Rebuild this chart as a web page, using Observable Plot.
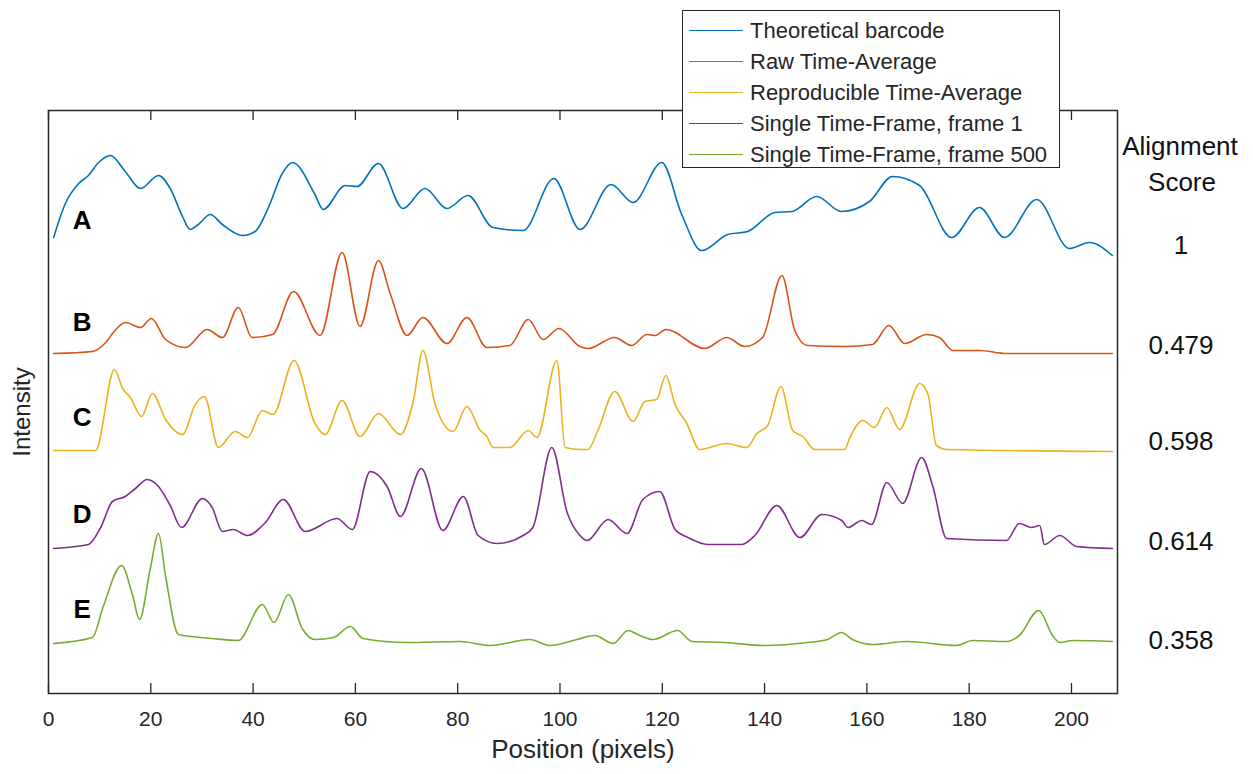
<!DOCTYPE html>
<html><head><meta charset="utf-8">
<script src="https://cdn.jsdelivr.net/npm/d3@7"></script>
<script src="https://cdn.jsdelivr.net/npm/@observablehq/plot@0.6"></script>
<style>
body{margin:0;background:#fff;}
#wrap{position:relative;width:1253px;height:774px;font-family:"Liberation Sans",Arial,sans-serif;color:#000;overflow:hidden;}
#wrap svg{position:absolute;left:0;top:0;}
.legend{position:absolute;left:682px;top:10px;width:378px;height:158px;box-sizing:border-box;border:1.5px solid #262626;background:#fff;padding-top:4px;}
.row{position:relative;height:31px;}
.row .ln{position:absolute;left:6px;top:15px;width:54px;height:0;border-top:1.5px solid;}
.row .tx{position:absolute;left:67px;top:0;line-height:31px;font-size:22px;color:#262626;white-space:nowrap;}
.ann{position:absolute;font-size:26px;transform:translate(-50%,-50%);white-space:nowrap;color:#111;}
</style>
</head><body>
<div id="wrap"></div>
<script>
// ---- data ----
const seriesNames = ["Theoretical barcode","Raw Time-Average","Reproducible Time-Average","Single Time-Frame, frame 1","Single Time-Frame, frame 500"];
const letters = ["A","B","C","D","E"];
const scores = ["1","0.479","0.598","0.614","0.358"];
const xTicks = [0,20,40,60,80,100,120,140,160,180,200];
const colors = ["#0072BD","#D95319","#EDB120","#7E2F8E","#77AC30"];

// Positions (pixels) and offset intensities for each trace
const posA = [1,3.3,5.9,7.8,9.8,12.1,15,18,21.5,23.8,26.2,27.7,29.3,31.6,34,37.9,40.4,43,45.7,47.7,52.1,53.7,58,60.3,64.5,69.3,73.6,77.9,82,86.9,92.8,98.8,103.9,110,114.3,119.9,123.8,127.7,132.8,136.7,142,145.3,150.2,155,160.5,165,170.3,176.6,182,186.9,193.2,199.6,203.5,208];
const valA = [456,490,510,518,531,538,522,505,518,505,477,464,469,479,469,458,462,486,520,531,499,484,508,507,530,485,505,485,498,466,463,515,464,509,491,531,479,443,459,462,481,482,497,482,492,517,508,456,486,456,494,445,451,438];

const posB = [1,8.6,11,13,15,18,20.1,22.9,26.8,31,34,37.1,39.8,43.8,47.9,53.1,57.4,60.9,64.5,66.8,70.1,73.2,77.9,81.8,85.7,90.2,93.8,96.7,99.8,103.9,105.5,110.7,114,117,118.6,120.7,128.3,132.6,136.1,139.6,143.4,145.9,148.4,155.7,161.1,164.3,167.4,171.7,174.2,176.8,182,187.3,208];
const valB = [340,342,350,363,371,366,375,354,346,364,356,386,356,359,402,358,441,367,433,400,358,376,350,376,346,348,374,354,365,347,345,356,348,359,358,364,345,356,347,356,418,363,348,347,349,368,350,359,356,343,343,340,340];

const posC = [1,9.2,12.9,14.5,16,18.2,20.3,22.9,26.2,28.7,30.5,33.2,36.5,38.9,41.8,43.9,48,52.1,54.1,57.4,60.9,64.5,68.8,71.3,73.2,75.6,79.1,81.8,84.4,85.7,86.9,90.2,93.8,95.5,99.4,101,103.9,105.5,107.4,110.7,114.3,116.6,118.9,120.7,122.5,124.8,127.3,132.6,136.5,138.5,140.6,143.2,145.5,147.5,149.8,155.7,156.6,159.2,161.5,163.9,166.4,170.3,171.9,173.6,175.6,208];
const valC = [243,243,324,305,296,277,300,274,259,289,297,246,262,256,283,279,333,270,259,293,257,280,259,292,343,289,262,287,263,257,246,246,263,256,333,246,244,244,263,302,272,292,294,318,289,270,244,250,246,260,268,307,263,257,244,244,255,273,266,286,264,310,300,248,244,242];

const posD = [1,7.8,10.2,12.5,15,17,19.3,21.5,23.8,26,30.1,32,34,36.1,38.9,42.4,45.9,50.2,56.4,59.4,62.9,66.2,68.8,72.9,77.1,81.1,84,87.7,92.8,94.7,98.4,101.4,103.9,105.3,109.4,113.1,116.2,119.5,122.5,125,128.9,135.5,138.1,142.4,146.9,151.2,155.1,156.3,159,160.9,163.9,167,170.7,172.9,175.6,187.3,189.8,192.2,193.8,194.7,197.7,201,208];
const valD = [145,149,166,192,197,205,214,207,188,166,195,186,162,164,158,171,194,162,175,164,222,207,177,225,163,197,158,150,158,166,246,181,158,153,174,160,194,202,164,156,149,149,158,188,156,179,173,166,173,169,211,190,236,207,155,153,170,166,168,149,158,147,145];

const posE = [1,8.6,10.7,14.3,16.4,17.8,19.9,21.5,22.9,25.4,32,37.1,41.8,44.1,46.9,49.6,52.1,55.7,59,61.5,70,80.5,86.3,94.1,98,103.3,106.8,110.4,113.3,115.2,118.2,123,125.8,132.2,140,148.4,152.3,155,157.2,161.1,167.8,177.5,180.7,187.3,189.8,193.6,196.3,197.7,200.2,208];
const valE = [50,56,87,128,99,74,125,160,117,59,55,53,89,71,99,65,54,56,67,55,51,52,48,54,48,54,58,50,63,59,54,63,52,51,48,51,54,61,54,49,52,48,53,52,58,83,58,51,53,52];

// annotation letter anchors (plot units)
const letterX = [6.6,6.6,6.6,6.6,6.6];
const letterY = [473,371,276,179,84];

// ---- build ----
const P = [posA,posB,posC,posD,posE], V = [valA,valB,valC,valD,valE];
const rows = [];
seriesNames.forEach((s,i) => P[i].forEach((p,j) => rows.push({pos:p, val:V[i][j], series:s})));
const lettersData = letters.map((l,i) => ({l, x:letterX[i], y:letterY[i]}));

const chart = Plot.plot({
  width:1253, height:774,
  marginLeft:48, marginRight:136, marginTop:110, marginBottom:81,
  x:{domain:[0,209]},
  y:{domain:[0,583], axis:null},
  color:{domain:seriesNames, range:colors},
  style:{fontFamily:'"Liberation Sans",Arial,sans-serif', fontSize:"21px", color:"#262626", background:"transparent"},
  marks:[
    Plot.line(rows, {x:"pos", y:"val", z:"series", stroke:"series", strokeWidth:1.6, curve:"monotone-x"}),
    Plot.frame({stroke:"#262626", strokeWidth:1.5}),
    Plot.ruleX(xTicks, {x:d=>d, y1:0, y2:10, stroke:"#262626", strokeWidth:1.3}),
    Plot.ruleX(xTicks, {x:d=>d, y1:583, y2:573, stroke:"#262626", strokeWidth:1.3}),
    Plot.axisX(xTicks, {tickSize:0, tickPadding:18, label:null, fontSize:21, fill:"#262626"}),
    Plot.text(["Position (pixels)"], {frameAnchor:"bottom", dy:64, fontSize:26, fill:"#262626"}),
    Plot.text(["Intensity"], {frameAnchor:"left", textAnchor:"middle", dx:-26, dy:10, rotate:-90, fontSize:24, fill:"#262626"}),
    Plot.text(lettersData, {x:"x", y:"y", text:"l", fontSize:26, fontWeight:"bold", fill:"#000"})
  ]
});
const wrap = document.getElementById("wrap");
wrap.appendChild(chart);

// legend
const leg = document.createElement("div");
leg.className = "legend";
seriesNames.forEach((s,i) => {
  const r = document.createElement("div"); r.className = "row";
  const ln = document.createElement("div"); ln.className = "ln"; ln.style.borderTopColor = colors[i];
  const tx = document.createElement("div"); tx.className = "tx"; tx.textContent = s;
  r.appendChild(ln); r.appendChild(tx); leg.appendChild(r);
});
wrap.appendChild(leg);

// right-hand annotations
const annTop = [245,345,441,541,640];
[["Alignment",1180,146],["Score",1182,182]].forEach(([t,x,y]) => {
  const d = document.createElement("div"); d.className = "ann"; d.textContent = t;
  d.style.left = x+"px"; d.style.top = y+"px"; wrap.appendChild(d);
});
scores.forEach((s,i) => {
  const d = document.createElement("div"); d.className = "ann"; d.textContent = s;
  d.style.left = "1181px"; d.style.top = annTop[i]+"px"; wrap.appendChild(d);
});
</script>
</body></html>
